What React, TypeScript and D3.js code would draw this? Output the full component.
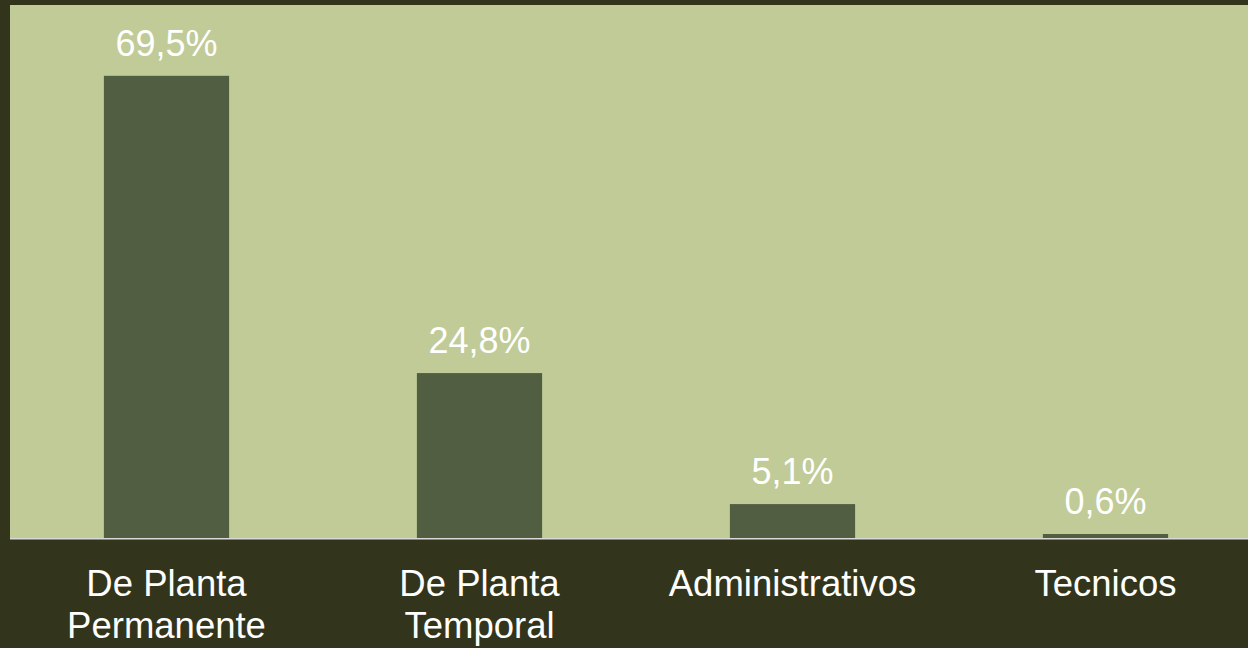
import React from "react";
import * as d3 from "d3";

const categories: string[][] = [
  ["De Planta", "Permanente"],
  ["De Planta", "Temporal"],
  ["Administrativos"],
  ["Tecnicos"],
];
const values: number[] = [69.5, 24.8, 5.1, 0.6];
const valueLabels: string[] = ["69,5%", "24,8%", "5,1%", "0,6%"];

const W = 1248;
const H = 648;
const plotLeft = 10;
const plotTop = 5;
const baseline = 538;

export default function App() {
  const keys = categories.map((c, i) => String(i));
  const x = d3.scaleBand<string>().domain(keys).range([plotLeft, plotLeft + 313 * 4]).paddingInner(0.6).paddingOuter(0.3);
  const y = d3.scaleLinear().domain([0, 80]).range([baseline, 6]);
  const font = "'Liberation Sans', Arial, sans-serif";
  return (
    <div style={{ position: "fixed", left: 0, top: 0, width: W, height: H }}>
      <svg width={W} height={H} style={{ display: "block" }}>
        <rect x={0} y={0} width={W} height={H} fill="#32351c" />
        <rect x={plotLeft} y={plotTop} width={W - plotLeft} height={baseline - plotTop} fill="#c0cb98" />
        {values.map((v, i) => {
          const bx = x(String(i))!;
          return (
            <g key={i}>
              <rect x={bx} y={y(v)} width={x.bandwidth()} height={baseline - y(v)} fill="#525e41" />
              <text x={bx + x.bandwidth() / 2} y={y(v) - 20} textAnchor="middle" fill="#ffffff" fontFamily={font} fontSize={36}>
                {valueLabels[i]}
              </text>
            </g>
          );
        })}
        <line x1={plotLeft} x2={W} y1={baseline + 0.75} y2={baseline + 0.75} stroke="#d9d9d9" strokeWidth={1.5} />
        {categories.map((lines, i) => {
          const cx = x(String(i))! + x.bandwidth() / 2;
          return (
            <text key={i} x={cx} y={596} textAnchor="middle" fill="#ffffff" fontFamily={font} fontSize={36.5}>
              {lines.map((l, j) => (
                <tspan key={j} x={cx} dy={j === 0 ? 0 : 42}>
                  {l}
                </tspan>
              ))}
            </text>
          );
        })}
      </svg>
    </div>
  );
}
